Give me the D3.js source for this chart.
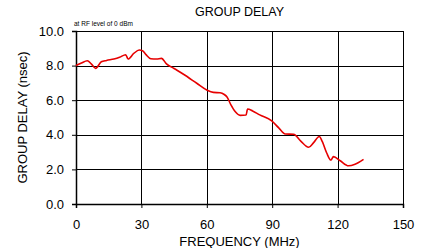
<!DOCTYPE html>
<html>
<head>
<meta charset="utf-8">
<script src="https://cdn.jsdelivr.net/npm/d3@7"></script>
<style>
  body { margin: 0; background: #fff; }
  text { font-family: "Liberation Sans", Arial, sans-serif; fill: #000; }
</style>
</head>
<body>
<div id="chart"></div>
<script>
// data
var freq = [0, 2.5, 5.2, 7, 9, 11.6, 14, 17.4, 20, 22.8, 23.9, 26.5, 29, 30.5, 32, 34.3, 37, 39.2, 41.5, 45,
  49.3, 55.4, 60, 63, 66.1, 68, 69.2, 71, 73, 75.3, 78, 78.7, 81, 84.3, 89.8, 93, 96, 99.8, 103, 106.7,
  109, 111.6, 113, 115, 116.9, 118.1, 121.2, 125, 128, 131.9];
var delay = [8.0, 8.15, 8.28, 8.1, 7.84, 8.22, 8.3, 8.38, 8.48, 8.63, 8.38, 8.7, 8.9, 8.86, 8.65, 8.4, 8.38, 8.42, 8.1, 7.83,
  7.5, 6.98, 6.59, 6.45, 6.43, 6.33, 6.2, 5.75, 5.34, 5.12, 5.14, 5.49, 5.38, 5.15, 4.8, 4.4, 4.05, 4.03, 3.65, 3.28,
  3.55, 3.9, 3.6, 2.95, 2.54, 2.74, 2.5, 2.21, 2.3, 2.58];
var xTicks = [0, 30, 60, 90, 120, 150];
var yTicks = [0, 2, 4, 6, 8, 10];

var width = 431, height = 248;
var margin = { top: 31, right: 28, bottom: 44, left: 76 };
var chartWidth = width - margin.left - margin.right;
var chartHeight = height - margin.top - margin.bottom;

var svg = d3.select('#chart').append('svg')
  .attr('width', width)
  .attr('height', height);

var chart = svg.append('g')
  .attr('transform', `translate(${margin.left}, ${margin.top})`);

var x = d3.scaleLinear().domain([0, 150]).range([0, chartWidth]);
var y = d3.scaleLinear().domain([0, 10]).range([chartHeight, 0]);

// grid
chart.append('g').selectAll('line.vgrid')
  .data(xTicks.slice(1))
  .join('line')
  .attr('x1', d => Math.round(x(d)) + 0.5).attr('x2', d => Math.round(x(d)) + 0.5)
  .attr('y1', 0).attr('y2', chartHeight)
  .attr('stroke', '#000').attr('stroke-width', 1);

chart.append('g').selectAll('line.hgrid')
  .data(yTicks.slice(1))
  .join('line')
  .attr('x1', 0).attr('x2', chartWidth)
  .attr('y1', d => Math.round(y(d)) + 0.5).attr('y2', d => Math.round(y(d)) + 0.5)
  .attr('stroke', '#000').attr('stroke-width', 1);

// axes
var xAxis = chart.append('g')
  .attr('transform', `translate(0, ${chartHeight})`)
  .call(d3.axisBottom(x).tickValues(xTicks).tickSize(4).tickPadding(12).tickFormat(d3.format('d')));
var yAxis = chart.append('g')
  .call(d3.axisLeft(y).tickValues(yTicks).tickSize(4).tickPadding(8).tickFormat(d3.format('.1f')));

[xAxis, yAxis].forEach(function (a) {
  a.select('.domain').attr('stroke', '#000').attr('stroke-width', 1.5);
  a.selectAll('.tick line').attr('stroke', '#000');
  a.selectAll('text').attr('font-family', '"Liberation Sans", Arial, sans-serif')
    .attr('font-size', 13).attr('fill', '#000');
});

// curve
var line = d3.line()
  .x((d, i) => x(freq[i]))
  .y((d, i) => y(delay[i]))
  .curve(d3.curveMonotoneX);

chart.append('path')
  .datum(delay)
  .attr('fill', 'none')
  .attr('stroke', '#e60000')
  .attr('stroke-width', 1.6)
  .attr('stroke-linejoin', 'round')
  .attr('d', line);

// titles
svg.append('text')
  .attr('x', margin.left + chartWidth / 2).attr('y', 16)
  .attr('text-anchor', 'middle').attr('font-size', 12.5)
  .text('GROUP DELAY');

svg.append('text')
  .attr('x', margin.left - 2).attr('y', 26)
  .attr('font-size', 6.5)
  .text('at RF level of 0 dBm');

svg.append('text')
  .attr('x', margin.left + chartWidth / 2).attr('y', 246)
  .attr('text-anchor', 'middle').attr('font-size', 13)
  .text('FREQUENCY (MHz)');

svg.append('text')
  .attr('transform', `translate(27, ${margin.top + chartHeight / 2}) rotate(-90)`)
  .attr('text-anchor', 'middle').attr('font-size', 13)
  .text('GROUP DELAY (nsec)');
</script>
</body>
</html>
